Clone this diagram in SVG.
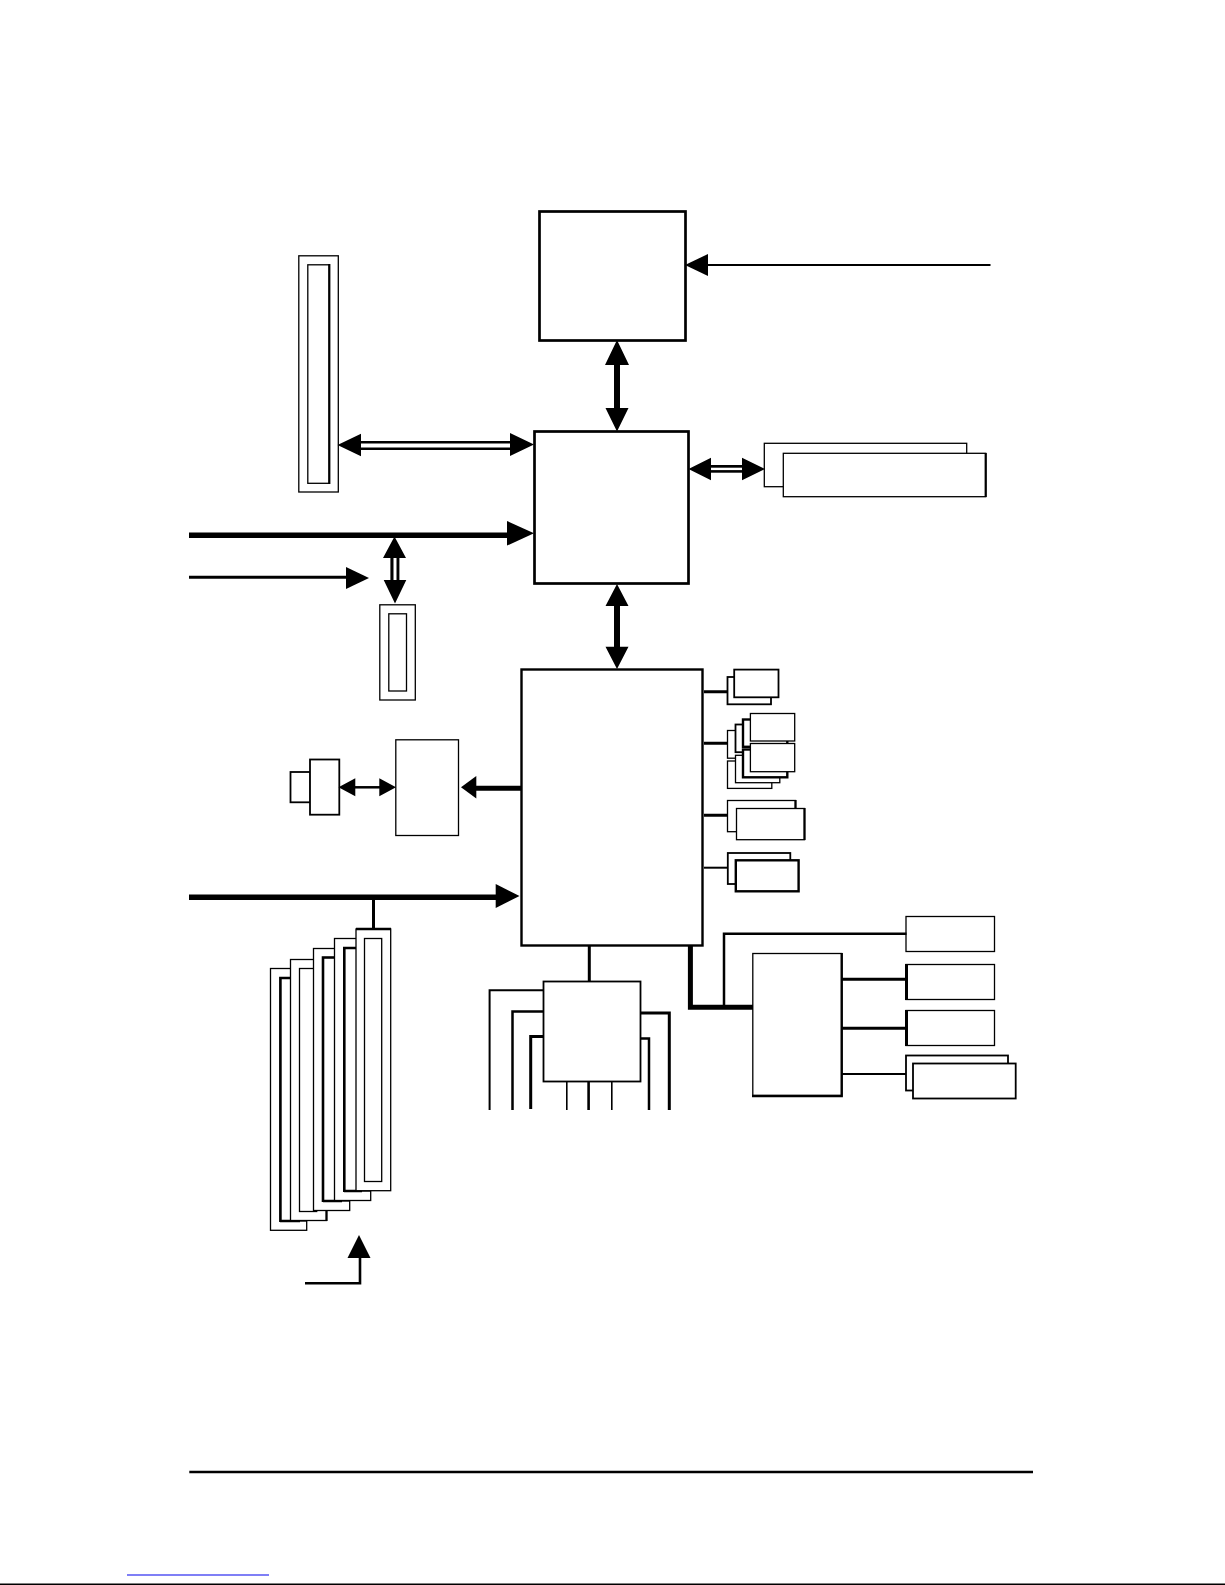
<svg xmlns="http://www.w3.org/2000/svg" width="1225" height="1585" viewBox="0 0 1225 1585">
<style>
.b{fill:#fff;stroke:#000;stroke-width:1.3}
.m{fill:#fff;stroke:#000;stroke-width:1.8}
.t{fill:#fff;stroke:#000;stroke-width:2.4}
.k{fill:#fff;stroke:#000;stroke-width:2.7}
.l{fill:none;stroke:#000;stroke-linecap:butt;stroke-linejoin:miter}
.h{fill:#000;stroke:none}
.w{fill:#fff;stroke:none}
</style>
<rect width="1225" height="1585" fill="#fff"/>
<g id="cpu"><rect class="k" x="539.5" y="211.5" width="146" height="129"/></g>
<g id="north-bridge"><rect class="k" x="534.5" y="431.5" width="154" height="152"/></g>
<g id="south-bridge"><rect class="t" x="521.5" y="669.5" width="181" height="276"/></g>
<g id="agp-slot"><rect class="b" x="298.8" y="255.8" width="39.5" height="236.2"/><rect class="b" x="307.8" y="264.8" width="21.5" height="218.5"/><path class="l" stroke-width="2.2" d="M329.3 264V484"/></g>
<g id="pcie-slot"><rect class="b" x="379.8" y="604.8" width="35.5" height="95.2"/><rect class="b" x="388.8" y="613.8" width="17.7" height="77.2"/></g>
<g id="memory">
<rect class="b" x="764.3" y="443.3" width="202.4" height="43.4"/>
<rect class="b" x="783.3" y="453.3" width="202.4" height="43.4"/>
<path class="l" stroke-width="2.2" d="M985.7 453V497"/>
</g>
<g id="io-a">
<rect class="m" x="727.5" y="677" width="43.5" height="27.3"/>
<rect class="m" x="734.2" y="669.6" width="44.3" height="27.7"/>
</g>
<g id="io-b-upper">
<rect class="b" x="727.5" y="730.5" width="44.3" height="27.7"/>
<rect class="m" x="735.5" y="724.5" width="44.3" height="27.7"/>
<rect class="t" x="743" y="719.5" width="44.3" height="27.3"/>
<rect class="b" x="750.4" y="713.5" width="44.3" height="27.5"/>
</g>
<g id="io-b-lower">
<rect class="b" x="727.5" y="761" width="44.3" height="27.4"/>
<rect class="b" x="735.5" y="755.3" width="44.3" height="27.4"/>
<rect class="t" x="743" y="749.5" width="44.3" height="27.8"/>
<rect class="b" x="750.4" y="743.5" width="44.3" height="28.2"/>
</g>
<g id="io-c">
<rect class="b" x="727.5" y="800.5" width="68" height="31.2"/>
<rect class="b" x="736.5" y="808.5" width="68" height="31.2"/>
<path class="l" stroke-width="2.2" d="M795.5 800V808M804.5 808V840"/>
</g>
<g id="io-d">
<rect class="m" x="727.8" y="853" width="62.5" height="31"/>
<rect class="t" x="735.8" y="860.3" width="62.8" height="31"/>
</g>
<g id="usb-connector"><rect class="m" x="290.5" y="772" width="20" height="30.3"/><rect class="m" x="310" y="759.5" width="29.3" height="55.2"/></g>
<g id="lan-chip"><rect class="b" x="395.8" y="739.8" width="62.7" height="95.7"/></g>
<g id="pci-slots">
<rect class="b" x="270.5" y="968.5" width="36.2" height="261.8"/><rect class="b" x="280.4" y="978" width="26" height="243"/><path class="l" stroke-width="2.6" d="M280.4 1222V978H306M280 1221H300"/>
<rect class="b" x="290.5" y="959.5" width="36" height="261"/><path class="l" stroke-width="2.2" d="M326.5 1221V1208"/><rect class="b" x="299.5" y="968.5" width="17.2" height="243"/>
<rect class="b" x="313.5" y="948.5" width="36.2" height="262"/><rect class="b" x="323" y="957.5" width="26" height="243.5"/><path class="l" stroke-width="2.6" d="M323 1202V957.5H349M323 1201H342"/>
<rect class="b" x="334.5" y="938.5" width="36.2" height="262"/><rect class="b" x="344.3" y="948" width="26" height="243"/><path class="l" stroke-width="2.6" d="M344.3 1192V948H370M344 1191H362"/>
<rect class="b" x="356" y="929" width="34.7" height="261.7"/><path class="l" stroke-width="2.4" d="M356 929H391"/><rect class="b" x="364.5" y="938.5" width="17.2" height="243"/>
</g>
<g id="hub"><rect class="m" x="543.5" y="981.5" width="97" height="100"/></g>
<g id="super-io"><rect class="b" x="752.8" y="953.5" width="88.9" height="142"/><path class="l" stroke-width="2.4" d="M841.7 953V1096H752"/></g>
<g id="box-1"><rect class="b" x="906" y="916.5" width="88.5" height="35"/></g>
<g id="box-2"><rect class="b" x="906" y="964.5" width="88.5" height="35"/></g>
<g id="box-3"><rect class="b" x="906" y="1010.5" width="88.5" height="35"/></g>
<g id="box-4">
<rect class="m" x="906" y="1055.5" width="102" height="35"/>
<rect class="m" x="913" y="1063.5" width="102.7" height="35"/>
</g>
<g id="connectors">
<path class="l" stroke-width="2.2" d="M708 265H990.5"/>
<path class="h" d="M685 265L708 254V276Z"/>
<path class="l" stroke-width="6" d="M617 360V412"/>
<path class="h" d="M617 340L629 365H605ZM617 431.5L605.5 408H628.5Z"/>
<rect class="h" x="355" y="441" width="160" height="9"/><rect class="w" x="361" y="443.5" width="149" height="4"/>
<path class="h" d="M337.5 445L361 433.7V456.3ZM534 444.5L510 433V456Z"/>
<path class="l" stroke-width="5.5" d="M189 535.3H510"/>
<path class="h" d="M534 533.3L507 521V545.6Z"/>
<path class="l" stroke-width="3" d="M189 577.3H350"/>
<path class="h" d="M369 578L346 567V589Z"/>
<rect class="h" x="390.4" y="555" width="9" height="28"/><rect class="w" x="393.5" y="558" width="3" height="22"/>
<path class="h" d="M394.5 536.5L406 558H383ZM395 603.5L383.7 580H406.3Z"/>
<path class="l" stroke-width="6" d="M617 602V650"/>
<path class="h" d="M617 584L628.5 606H605.5ZM617 669L605.5 646.7H628.5Z"/>
<rect class="h" x="708" y="465" width="36" height="7.7"/><rect class="w" x="711" y="467.7" width="31" height="2.4"/>
<path class="h" d="M688.5 469L711 457.7V480.3ZM765 469L742 457.7V480.3Z"/>
<path class="l" stroke-width="3" d="M704 691.7H728M704 743.3H728M704 815.3H728"/>
<path class="l" stroke-width="2" d="M704 867.7H728"/>
<path class="l" stroke-width="2.5" d="M352 787.3H382"/>
<path class="h" d="M338.5 787.3L355.3 778.3V796.3ZM396 787.3L379.3 778.3V796.3Z"/>
<path class="l" stroke-width="5" d="M474 788.3H521"/>
<path class="h" d="M461 787.3L476.3 776V798.6Z"/>
<path class="l" stroke-width="5.5" d="M189 897.3H498"/>
<path class="h" d="M519.5 896L495.7 884V908Z"/>
<path class="l" stroke-width="3" d="M373.5 897V930"/>
<path class="l" stroke-width="3" d="M589.3 946V982"/>
<path class="l" stroke-width="2" d="M544 990.2H489.6V1110"/>
<path class="l" stroke-width="2.5" d="M544 1011.5H512.5V1110"/>
<path class="l" stroke-width="3" d="M544 1036.5H530.7V1109"/>
<path class="l" stroke-width="3" d="M640 1013H669.3V1110"/>
<path class="l" stroke-width="2.5" d="M640 1038.5H649V1110"/>
<path class="l" stroke-width="1.6" d="M566.8 1081V1110M611.8 1081V1110"/>
<path class="l" stroke-width="2.6" d="M588.6 1081V1110"/>
<path class="l" stroke-width="5" d="M690.4 946V1007.3H753"/>
<path class="l" stroke-width="2.5" d="M724 1007V933.7H906.5"/>
<path class="l" stroke-width="3" d="M842 979.3H906.5V964M906.5 1000V979M842 1028.3H906.5M906.5 1010V1046"/>
<path class="l" stroke-width="2" d="M842 1074H906"/>
<path class="l" stroke-width="2.6" d="M360 1255V1283.3H305"/>
<path class="h" d="M359 1235L370.5 1258H347.5Z"/>
</g>
<g id="page-rules">
<path class="l" stroke-width="2.4" d="M189.3 1472H1033"/>
<path fill="none" stroke="#0000ee" stroke-width="1.2" d="M127 1575H269"/>
<path class="l" stroke-width="1.6" d="M0 1584.3H1225"/>
</g>
</svg>
